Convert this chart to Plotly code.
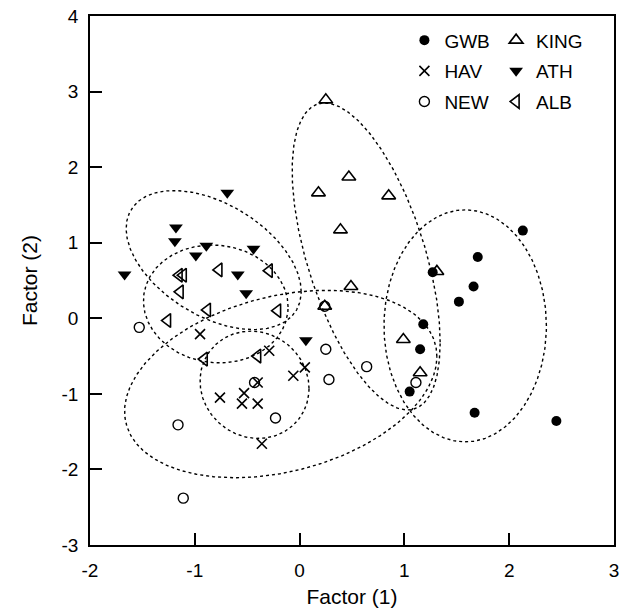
import numpy as np
import plotly.graph_objects as go

# ---- data ----
gwb_x = [2.13, 1.70, 1.66, 1.52, 1.27, 1.18, 1.15, 1.05, 1.67, 2.45]
gwb_y = [1.16, 0.81, 0.42, 0.22, 0.61, -0.08, -0.41, -0.97, -1.25, -1.36]

hav_x = [-0.95, -0.29, -0.40, -0.53, -0.76, -0.55, -0.40, -0.36, -0.06, 0.05]
hav_y = [-0.21, -0.43, -0.85, -0.99, -1.05, -1.13, -1.13, -1.66, -0.76, -0.65]

new_x = [-1.53, -0.43, -0.23, -1.16, -1.11, 0.25, 0.28, 0.64, 1.11, 0.24]
new_y = [-0.12, -0.85, -1.32, -1.41, -2.38, -0.41, -0.81, -0.64, -0.85, 0.16]

king_x = [0.25, 0.47, 0.18, 0.85, 0.39, 0.49, 0.24, 1.31, 0.99, 1.15]
king_y = [2.89, 1.87, 1.66, 1.62, 1.17, 0.42, 0.16, 0.62, -0.28, -0.72]

ath_x = [-0.69, -1.18, -1.19, -0.89, -0.99, -0.44, -1.67, -0.59, -0.51, 0.06]
ath_y = [1.66, 1.20, 1.02, 0.96, 0.83, 0.92, 0.58, 0.58, 0.33, -0.29]

alb_x = [-1.15, -1.11, -0.77, -0.29, -1.14, -0.88, -0.21, -1.26, -0.91, -0.40]
alb_y = [0.57, 0.57, 0.64, 0.63, 0.35, 0.11, 0.10, -0.03, -0.54, -0.50]

# ellipse parameters: centre, half-extents, phase (deg) of tilt
ell_names = ["ATH", "ALB", "HAV", "NEW", "KING", "GWB"]
ell_cx = [-0.82, -0.80, -0.43, -0.18, 0.635, 1.58]
ell_cy = [0.77, 0.19, -0.88, -0.87, 0.818, -0.10]
ell_rx = [0.835, 0.69, 0.52, 1.49, 0.706, 0.775]
ell_ry = [0.92, 0.78, 0.71, 1.24, 2.031, 1.535]
ell_phi = [117, 93, 94, 73, 124, 90]

x_ticks = [-2, -1, 0, 1, 2, 3]
x_tick_text = ["-2", "-1", "0", "1", "2", "3"]
y_ticks = [-3, -2, -1, 0, 1, 2, 3, 4]
y_tick_text = ["-3", "-2", "-1", "0", "1", "2", "3", "4"]

FONT = "Liberation Sans, Arial, sans-serif"

fig = go.Figure()

t = np.linspace(0, 2 * np.pi, 400)
for cx, cy, rx, ry, ph in zip(ell_cx, ell_cy, ell_rx, ell_ry, ell_phi):
    p = np.deg2rad(ph)
    fig.add_trace(go.Scatter(
        x=cx + rx * np.cos(t), y=cy + ry * np.cos(t - p),
        mode="lines", line=dict(color="black", width=1.4, dash="dot"),
        showlegend=False, hoverinfo="skip"))

series = [
    ("GWB", gwb_x, gwb_y, dict(symbol="circle", size=10, color="black"), "legend"),
    ("HAV", hav_x, hav_y, dict(symbol="x-thin-open", size=10, color="black",
                               line=dict(width=1.6, color="black")), "legend"),
    ("NEW", new_x, new_y, dict(symbol="circle-open", size=10, color="black",
                               line=dict(width=1.4, color="black")), "legend"),
    ("KING", king_x, king_y, dict(symbol="triangle-up-open", size=12, color="black",
                                  line=dict(width=1.6, color="black")), "legend2"),
    ("ATH", ath_x, ath_y, dict(symbol="triangle-down", size=12, color="black"), "legend2"),
    ("ALB", alb_x, alb_y, dict(symbol="triangle-left-open", size=12, color="black",
                               line=dict(width=1.6, color="black")), "legend2"),
]
for name, xs, ys, mk, lg in series:
    fig.add_trace(go.Scatter(x=xs, y=ys, mode="markers", name=name, marker=mk,
                             legend=lg, legendgroup=name))

axis_common = dict(showgrid=False, zeroline=False, showline=True, linecolor="black",
                   linewidth=1.5, mirror=True, ticks="inside", ticklen=12,
                   tickwidth=1.5, tickcolor="black", ticklabeloverflow="allow",
                   tickfont=dict(family=FONT, size=19, color="black"))

leg_common = dict(bgcolor="rgba(0,0,0,0)", borderwidth=0, xanchor="left",
                  yanchor="top", font=dict(family=FONT, size=19, color="black"),
                  tracegroupgap=3, traceorder="grouped")

fig.update_layout(
    width=622, height=609,
    margin=dict(l=90, r=3, t=16, b=64),
    paper_bgcolor="white", plot_bgcolor="white",
    xaxis=dict(range=[-2, 3], tickvals=x_ticks, ticktext=x_tick_text,
               ticklabelstandoff=7,
               title=dict(text="Factor (1)", font=dict(family=FONT, size=21, color="black"),
                          standoff=10), **axis_common),
    yaxis=dict(range=[-3, 4], tickvals=y_ticks, ticktext=y_tick_text,
               ticklabelstandoff=6,
               title=dict(text="Factor (2)", font=dict(family=FONT, size=21, color="black"),
                          standoff=18), **axis_common),
    legend=dict(x=0.600, y=0.99, **leg_common),
    legend2=dict(x=0.775, y=0.99, **leg_common),
    showlegend=True,
)

fig.write_html("out.html")
